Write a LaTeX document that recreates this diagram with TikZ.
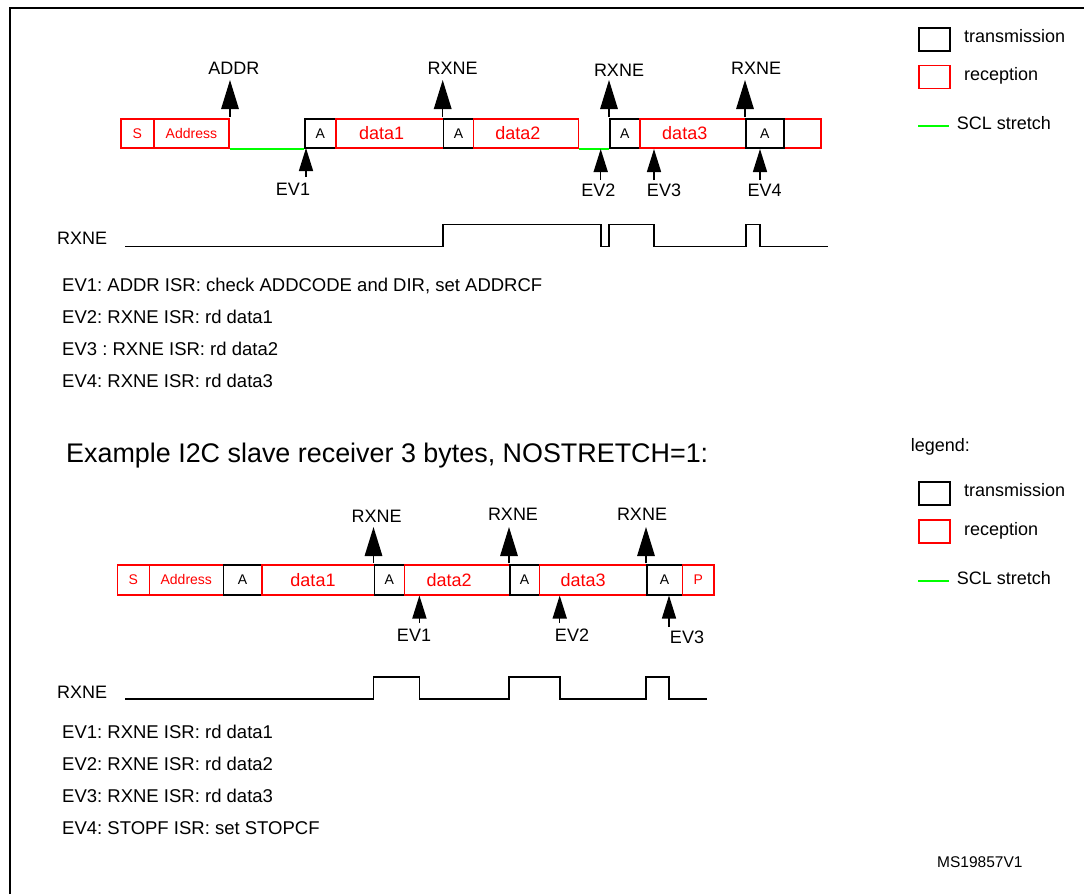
\documentclass[tikz,border=0pt]{standalone}
\usepackage{fontspec}
\setmainfont{Liberation Sans}
\usetikzlibrary{arrows.meta}
\definecolor{rxred}{RGB}{255,0,0}
\definecolor{sclgreen}{RGB}{0,255,0}
\frenchspacing
\tikzset{
  lbl/.style={font=\fontsize{18}{20}\selectfont, inner sep=0pt, anchor=base},
  lblw/.style={lbl, anchor=base west},
  desc/.style={lblw, font=\fontsize{18.5}{20}\selectfont},
  boxbase/.style={draw, line width=1.5pt, inner sep=0pt, anchor=north west, minimum height=29pt},
  txbox/.style={boxbase, draw=black, text=black, font=\fontsize{14}{16}\selectfont},
  rxbox/.style={boxbase, draw=rxred, text=rxred, font=\fontsize{14}{16}\selectfont},
  rxdata/.style={boxbase, draw=rxred, text=rxred, font=\fontsize{18}{20}\selectfont},
  upbig/.style={line width=1.5pt, -{Triangle[width=17.5pt,length=29pt]}},
  upsmall/.style={line width=1.5pt, -{Triangle[width=14pt,length=23pt]}},
  wave/.style={line width=1.8pt},
  stretch/.style={draw=sclgreen, line width=2pt},
  legbox/.style={draw, line width=1.5pt, inner sep=0pt, anchor=north west, minimum width=31pt, minimum height=23pt},
}
\begin{document}
\begin{tikzpicture}[x=1pt,y=-1pt]
\useasboundingbox (0,0) rectangle (1084,894);
% frame
\coordinate (fbl) at (10,894);
\coordinate (ftl) at (10,8);
\coordinate (ftr) at (1084,8);
\draw[line width=1.7pt] (fbl) -- (ftl) -- (ftr);

% ================= TOP SEQUENCE =================
\node[rxbox, minimum width=33pt] (tS) at (120,118) {S};
\node[rxbox, minimum width=75.3pt] (tAddr) at (153,118) {Address};
\node[txbox, minimum width=31pt] (tA1) at (304,118) {A};
\node[rxdata, minimum width=107.7pt] (tD1) at (335,118) {data1\hspace*{16pt}};
\node[txbox, minimum width=30pt] (tA2) at (442.7,118) {A};
\node[rxdata, minimum width=105pt] (tD2) at (472.7,118) {data2\hspace*{16pt}};
\node[txbox, minimum width=30pt] (tA3) at (609,118) {A};
\node[rxdata, minimum width=106pt] (tD3) at (639,118) {data3\hspace*{16pt}};
\node[rxbox, minimum width=37pt] (tEnd) at (783,118) {};
\node[txbox, minimum width=38pt] (tA4) at (745,118) {A};
% SCL stretch segments
\draw[stretch] (tAddr.south east) -- (tA1.south west);
\draw[stretch] (tD2.south east) -- (tA3.south west);

% upward event arrows (above)
\coordinate (tAddrB) at (230,117); \coordinate (tAddrT) at (230,80);
\draw[upbig] (tAddrB) -- (tAddrT);
\node[lbl] (tAddrL) at (233.8,74) {ADDR};
\coordinate (tR1B) at (442.7,117); \coordinate (tR1T) at (442.7,80);
\draw[upbig] (tR1B) -- (tR1T);
\node[lbl] (tR1L) at (452.7,74) {RXNE};
\coordinate (tR2B) at (609,117); \coordinate (tR2T) at (609,80);
\draw[upbig] (tR2B) -- (tR2T);
\node[lbl] (tR2L) at (619,76) {RXNE};
\coordinate (tR3B) at (745,117); \coordinate (tR3T) at (745,80);
\draw[upbig] (tR3B) -- (tR3T);
\node[lbl] (tR3L) at (756,74) {RXNE};

% upward event arrows (below)
\coordinate (tE1B) at (306,177); \coordinate (tE1T) at (306,148);
\draw[upsmall] (tE1B) -- (tE1T);
\node[lbl] (tE1L) at (293,195) {EV1};
\coordinate (tE2B) at (600.7,180); \coordinate (tE2T) at (600.7,149);
\draw[upsmall] (tE2B) -- (tE2T);
\node[lbl] (tE2L) at (598.3,196.7) {EV2};
\coordinate (tE3B) at (654,180); \coordinate (tE3T) at (654,149);
\draw[upsmall] (tE3B) -- (tE3T);
\node[lbl] (tE3L) at (664,196.7) {EV3};
\coordinate (tE4B) at (760,180); \coordinate (tE4T) at (760,149);
\draw[upsmall] (tE4B) -- (tE4T);
\node[lbl] (tE4L) at (764.7,196.7) {EV4};

% RXNE waveform (top)
\node[lblw] (tWL) at (57,244) {RXNE};
\draw[wave] (125,246.5) -- (442.7,246.5) -- (442.7,224.5) -- (601,224.5) -- (601,246.5)
  -- (609,246.5) -- (609,224.5) -- (654,224.5) -- (654,246.5) -- (746,246.5)
  -- (746,224.5) -- (760,224.5) -- (760,246.5) -- (828,246.5);

% event descriptions (top)
\node[desc] (tEv1) at (62,291.5) {EV1: ADDR ISR: check ADDCODE and DIR, set ADDRCF};
\node[desc] (tEv2) at (62,323.5) {EV2: RXNE ISR: rd data1};
\node[desc] (tEv3) at (62,355.5) {EV3 : RXNE ISR: rd data2};
\node[desc] (tEv4) at (62,387.5) {EV4: RXNE ISR: rd data3};

% legend (top)
\node[legbox, draw=black] (lg1t) at (918,27) {};
\node[lblw] (lg1tT) at (964,42.3) {transmission};
\node[legbox, draw=rxred] (lg2t) at (918,64.5) {};
\node[lblw] (lg2tT) at (964,80) {reception};
\coordinate (lg3tA) at (918,126); \coordinate (lg3tB) at (949,126);
\draw[stretch] (lg3tA) -- (lg3tB);
\node[lblw] (lg3tT) at (956.7,129.3) {SCL stretch};

% ================= BOTTOM SEQUENCE =================
\node[lblw, font=\fontsize{26.9}{30}\selectfont] (title) at (66,462.5) {Example I2C slave receiver 3 bytes, NOSTRETCH=1:};
\node[lblw] (legT) at (910.7,451.7) {legend:};
\node[legbox, draw=black] (lg1b) at (918,481) {};
\node[lblw] (lg1bT) at (964,496.7) {transmission};
\node[legbox, draw=rxred] (lg2b) at (918,519) {};
\node[lblw] (lg2bT) at (964,535) {reception};
\coordinate (lg3bA) at (918,581); \coordinate (lg3bB) at (949,581);
\draw[stretch] (lg3bA) -- (lg3bB);
\node[lblw] (lg3bT) at (956.7,584) {SCL stretch};

\tikzset{boxbase/.append style={minimum height=30pt}}
\node[rxbox, minimum width=32pt] (bS) at (116.6,564) {S};
\node[rxbox, minimum width=73.9pt] (bAddr) at (148.6,564) {Address};
\node[txbox, minimum width=38.4pt] (bA1) at (222.5,564) {A};
\node[rxdata, minimum width=112.5pt] (bD1) at (261,564) {data1\hspace*{10pt}};
\node[txbox, minimum width=30.1pt] (bA2) at (373.5,564) {A};
\node[rxdata, minimum width=105.4pt] (bD2) at (403.6,564) {data2\hspace*{16pt}};
\node[txbox, minimum width=29.7pt] (bA3) at (509,564) {A};
\node[rxdata, minimum width=107.3pt] (bD3) at (538.7,564) {data3\hspace*{20pt}};
\node[txbox, minimum width=35.8pt] (bA4) at (646,564) {A};
\node[rxbox, minimum width=31.6pt] (bP) at (681.8,564) {P};

% arrows above (bottom sequence)
\coordinate (bR1B) at (373.5,563); \coordinate (bR1T) at (373.5,527);
\draw[upbig] (bR1B) -- (bR1T);
\node[lbl] (bR1L) at (376.7,522) {RXNE};
\coordinate (bR2B) at (509,563); \coordinate (bR2T) at (509,527);
\draw[upbig] (bR2B) -- (bR2T);
\node[lbl] (bR2L) at (513,520) {RXNE};
\coordinate (bR3B) at (646,563); \coordinate (bR3T) at (646,527);
\draw[upbig] (bR3B) -- (bR3T);
\node[lbl] (bR3L) at (642,520) {RXNE};

% arrows below (bottom sequence)
\coordinate (bE1B) at (419.4,623); \coordinate (bE1T) at (419.4,595.5);
\draw[upsmall] (bE1B) -- (bE1T);
\node[lbl] (bE1L) at (414,641) {EV1};
\coordinate (bE2B) at (559.7,623); \coordinate (bE2T) at (559.7,595.5);
\draw[upsmall] (bE2B) -- (bE2T);
\node[lbl] (bE2L) at (572,641) {EV2};
\coordinate (bE3B) at (669,627); \coordinate (bE3T) at (669,595.5);
\draw[upsmall] (bE3B) -- (bE3T);
\node[lbl] (bE3L) at (687,643) {EV3};

% RXNE waveform (bottom)
\node[lblw] (bWL) at (57,698) {RXNE};
\draw[wave] (125,699) -- (373.5,699) -- (373.5,677) -- (419.4,677) -- (419.4,699)
  -- (509,699) -- (509,677) -- (560,677) -- (560,699) -- (646,699)
  -- (646,677) -- (669,677) -- (669,699) -- (707,699);

% event descriptions (bottom)
\node[desc] (bEv1) at (62,738.5) {EV1: RXNE ISR: rd data1};
\node[desc] (bEv2) at (62,770.5) {EV2: RXNE ISR: rd data2};
\node[desc] (bEv3) at (62,802.5) {EV3: RXNE ISR: rd data3};
\node[desc] (bEv4) at (62,834.5) {EV4: STOPF ISR: set STOPCF};

\node[lblw, font=\fontsize{15.5}{18}\selectfont] (code) at (937,867) {MS19857V1};
\end{tikzpicture}
\end{document}
